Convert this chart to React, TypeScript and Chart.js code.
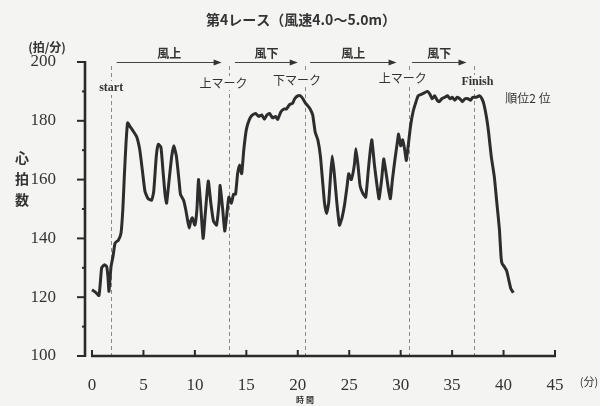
import React, { useEffect, useRef } from "react";
import { Chart, registerables } from "chart.js";

Chart.register(...registerables);

// time in minutes, heart rate in beats/min
const times = [
  0.0, 0.3, 0.68, 0.94, 1.19, 1.43, 1.55, 1.65, 1.85, 2.05, 2.24, 2.56, 2.82, 3.0, 3.14, 3.3, 3.46,
  3.7, 4.0, 4.35, 4.65, 4.9, 5.15, 5.45, 5.8, 6.0, 6.25, 6.45, 6.7, 6.9, 7.1, 7.25, 7.5, 7.75, 7.95,
  8.2, 8.45, 8.6, 8.9, 9.1, 9.3, 9.45, 9.6, 9.75, 10.0, 10.2, 10.35, 10.55, 10.8, 11.0, 11.3, 11.55,
  11.8, 12.1, 12.35, 12.45, 12.7, 12.9, 13.1, 13.3, 13.55, 13.75, 13.95, 14.15, 14.35, 14.55, 14.75,
  15.0, 15.3, 15.6, 15.9, 16.2, 16.5, 16.75, 17.0, 17.25, 17.55, 17.85, 18.05, 18.35, 18.65, 18.9,
  19.2, 19.5, 19.7, 20.0, 20.25, 20.5, 20.75, 21.0, 21.2, 21.45, 21.7, 21.95, 22.2, 22.4, 22.6, 22.8,
  23.0, 23.2, 23.35, 23.55, 23.8, 24.05, 24.3, 24.55, 24.8, 24.95, 25.2, 25.5, 25.65, 25.85, 26.05,
  26.3, 26.6, 26.85, 27.05, 27.2, 27.45, 27.7, 27.9, 28.15, 28.35, 28.55, 28.8, 29.0, 29.2, 29.45,
  29.65, 29.8, 30.0, 30.2, 30.4, 30.55, 30.75, 30.95, 31.2, 31.45, 31.7, 32.0, 32.3, 32.6, 32.85,
  33.05, 33.3, 33.55, 33.75, 34.0, 34.3, 34.55, 34.8, 35.0, 35.25, 35.5, 35.75, 36.0, 36.25, 36.55,
  36.8, 37.0, 37.35, 37.65, 37.9, 38.1, 38.35, 38.55, 38.8, 39.1, 39.35, 39.6, 39.75, 39.85, 40.05,
  40.3, 40.5, 40.7, 40.95,
];
const heartRate = [
  122.5, 121.8, 120.6, 130, 131, 130.4, 127, 122, 130.4, 134, 138.4, 139.4, 141.8, 150, 161, 172, 179.3,
  178, 176.5, 174.5, 170, 163, 156, 153.5, 153, 156, 168, 172, 171, 163, 155, 152, 160, 168, 171.5,
  168, 160, 155, 153, 150, 146, 143.5, 146, 147, 144.5, 150, 160, 152, 140, 148, 159.5, 152,
  146, 144.5, 152, 158, 150, 142.5, 148, 154, 152, 155, 155, 162, 165, 162, 170,
  177, 180.5, 182, 182.5, 181.5, 182, 180.5, 182, 182.5, 181, 181.5, 180.5, 183, 184, 184,
  185.5, 186, 187.5, 188.5, 188.5, 187.5, 186, 185, 184, 182, 176, 173.5, 168, 160, 152, 148.5,
  152, 162, 168, 162, 152, 144.5, 147, 151.5, 158, 162, 160, 165, 170.5, 165, 158,
  155.5, 154, 163, 170, 173.5, 165, 158, 153.5, 160, 167, 163, 157, 153.5, 160, 167,
  172, 175.5, 171.5, 173.5, 170, 166.5, 172, 178, 183, 186, 188.5, 189, 189.5, 190, 189,
  187.5, 188.5, 187, 186.5, 187.5, 188, 188.5, 187.5, 188, 187, 188, 187.5, 186.5, 187.5, 187.5,
  187, 188, 188, 188.5, 187.5, 185.5, 181, 176, 168, 161, 152, 143, 134, 131.5, 130.5,
  129, 126, 123, 121.5,
];

const xTicks = [0, 5, 10, 15, 20, 25, 30, 35, 40, 45];
const yTicks = [100, 120, 140, 160, 180, 200];
const yMinorTicks = [110, 130, 150, 170, 190];

// race events (minutes) and their labels
const eventTimes = [1.86, 13.27, 20.7, 30.78, 37.17];
const eventLabels = ["start", "上マーク", "下マーク", "上マーク", "Finish"];

// wind legs
const legStart = [2.4, 13.9, 21.2, 31.1];
const legEnd = [12.6, 20.0, 29.6, 36.4];
const legLabels = ["風上", "風下", "風上", "風下"];

const titleText = "第4レース（風速4.0～5.0m）";

const JP = '"Noto Sans CJK JP", "Noto Sans", sans-serif';
const SERIF = '"Liberation Serif", "DejaVu Serif", serif';

export default function App() {
  const ref = useRef<HTMLCanvasElement | null>(null);

  useEffect(() => {
    if (!ref.current) return;
    const decor = {
      id: "decor",
      beforeDraw(chart: any) {
        const c = chart.ctx;
        c.save();
        c.fillStyle = "#f4f4f2";
        c.fillRect(0, 0, chart.width, chart.height);
        c.restore();
      },
      beforeDatasetsDraw(chart: any) {
        const c = chart.ctx;
        const xs = chart.scales.x;
        const ys = chart.scales.y;
        const bottom = ys.getPixelForValue(100);
        const top = ys.getPixelForValue(200);
        c.save();
        c.strokeStyle = "#8a8a8a";
        c.lineWidth = 1;
        c.setLineDash([4, 3]);
        eventTimes.forEach((t) => {
          const px = Math.round(xs.getPixelForValue(t)) + 0.5;
          c.beginPath();
          c.moveTo(px, top + 4);
          c.lineTo(px, bottom);
          c.stroke();
        });
        c.restore();
      },
      afterDraw(chart: any) {
        const c = chart.ctx;
        const xs = chart.scales.x;
        const ys = chart.scales.y;
        const area = chart.chartArea;
        const y0 = ys.getPixelForValue(100);
        const y200 = ys.getPixelForValue(200);
        c.save();
        c.strokeStyle = "#2a2a2a";
        c.lineCap = "butt";
        // y axis
        c.lineWidth = 2.6;
        c.beginPath();
        c.moveTo(area.left, y200 - 1);
        c.lineTo(area.left, y0 + 1);
        c.stroke();
        c.lineWidth = 2;
        yTicks.forEach((v) => {
          const py = ys.getPixelForValue(v);
          c.beginPath();
          c.moveTo(area.left - 8, py);
          c.lineTo(area.left, py);
          c.stroke();
        });
        yMinorTicks.forEach((v) => {
          const py = ys.getPixelForValue(v);
          c.beginPath();
          c.moveTo(area.left - 3, py);
          c.lineTo(area.left, py);
          c.stroke();
        });
        // x axis
        const xa = xs.getPixelForValue(0);
        const xb = xs.getPixelForValue(45);
        c.lineWidth = 2.6;
        c.beginPath();
        c.moveTo(xa - 1, y0);
        c.lineTo(xb + 1, y0);
        c.stroke();
        c.lineWidth = 2;
        xTicks.forEach((v) => {
          const px = xs.getPixelForValue(v);
          c.beginPath();
          c.moveTo(px, y0);
          c.lineTo(px, y0 - 6);
          c.stroke();
        });

        // wind arrows
        c.lineWidth = 1;
        c.strokeStyle = "#444";
        legStart.forEach((s, i) => {
          const a = xs.getPixelForValue(s);
          const b = xs.getPixelForValue(legEnd[i]);
          const py = Math.round(y200) + 0.5;
          c.beginPath();
          c.moveTo(a, py);
          c.lineTo(b - 6, py);
          c.stroke();
          c.fillStyle = "#333";
          c.beginPath();
          c.moveTo(b, py);
          c.lineTo(b - 8, py - 3);
          c.lineTo(b - 8, py + 3);
          c.closePath();
          c.fill();
          c.font = `bold 12px ${JP}`;
          c.textAlign = "center";
          c.textBaseline = "middle";
          c.fillText(legLabels[i], (a + b) / 2, py - 9);
        });

        // event labels
        const labelY = [88, 83, 80, 78, 82];
        const labelDx = [0, -5, -8, -6, 3];
        eventTimes.forEach((t, i) => {
          const px = xs.getPixelForValue(t);
          const isLatin = /^[A-Za-z]+$/.test(eventLabels[i]);
          c.font = isLatin ? `bold 12px ${SERIF}` : `12px ${JP}`;
          c.textAlign = "center";
          c.textBaseline = "middle";
          const w = c.measureText(eventLabels[i]).width;
          c.fillStyle = "#f4f4f2";
          c.fillRect(px + labelDx[i] - w / 2 - 1, labelY[i] - 7, w + 2, 14);
          c.fillStyle = "#333";
          c.fillText(eventLabels[i], px + labelDx[i], labelY[i]);
        });

        // other texts
        c.fillStyle = "#333";
        c.textAlign = "center";
        c.textBaseline = "middle";
        c.font = `bold 14px ${JP}`;
        c.fillText(titleText, 301, 20);
        c.font = `bold 12px ${JP}`;
        c.fillText("(拍/分)", 47, 47);
        c.font = `bold 14px ${JP}`;
        ["心", "拍", "数"].forEach((ch, i) => c.fillText(ch, 22, 158 + i * 21));
        c.font = `12px ${JP}`;
        c.fillText("順位2 位", 528, 98);
        c.font = `11px ${JP}`;
        c.fillText("(分)", 589, 382);
        c.font = `bold 8px ${JP}`;
        c.fillText("時 間", 305, 400);
        c.restore();
      },
    };

    const chart = new Chart(ref.current, {
      type: "line",
      data: {
        datasets: [
          {
            data: times.map((t, i) => ({ x: t, y: heartRate[i] })),
            borderColor: "#2d2d2d",
            borderWidth: 3,
            pointRadius: 0,
            tension: 0.15,
            fill: false,
          },
        ],
      },
      options: {
        animation: false,
        responsive: false,
        devicePixelRatio: 1,
        layout: { padding: { top: 62, right: 45, left: 0, bottom: 0 } },
        plugins: { legend: { display: false }, tooltip: { enabled: false }, title: { display: false } },
        scales: {
          x: {
            type: "linear",
            min: -0.68,
            max: 45,
            afterBuildTicks: (s: any) => {
              s.ticks = xTicks.map((v) => ({ value: v }));
            },
            afterFit: (s: any) => {
              s.height = 50;
            },
            grid: { display: false },
            border: { display: false },
            ticks: {
              padding: 11,
              color: "#333",
              font: { family: SERIF, size: 17 },
              maxRotation: 0,
              autoSkip: false,
            },
          },
          y: {
            min: 100,
            max: 200,
            afterBuildTicks: (s: any) => {
              s.ticks = yTicks.map((v) => ({ value: v }));
            },
            afterFit: (s: any) => {
              s.width = 85;
            },
            grid: { display: false },
            border: { display: false },
            ticks: {
              padding: 21,
              color: "#333",
              font: { family: SERIF, size: 17 },
            },
          },
        },
      },
      plugins: [decor],
    });
    return () => chart.destroy();
  }, []);

  return (
    <div style={{ position: "absolute", left: 0, top: 0, width: 600, height: 406 }}>
      <canvas ref={ref} width={600} height={406} />
    </div>
  );
}
